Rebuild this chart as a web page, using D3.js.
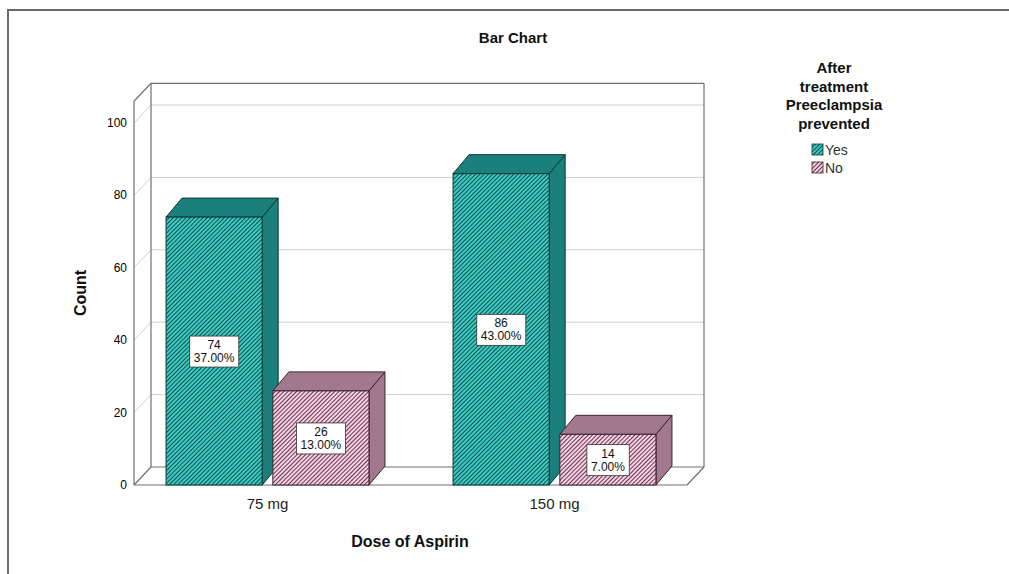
<!DOCTYPE html>
<html>
<head>
<meta charset="utf-8">
<script src="https://cdn.jsdelivr.net/npm/d3@7"></script>
<style>
  body { margin: 0; background: #fff; }
  svg { display: block; font-family: Arial, "Liberation Sans", sans-serif; }
</style>
</head>
<body>
<div class="chart"></div>
<script>
// data
const categories = ["75 mg", "150 mg"];
const groups = ["Yes", "No"];
const yesCounts = [74, 86];
const noCounts = [26, 14];
const yesPercents = [37.0, 43.0];
const noPercents = [13.0, 7.0];
const yTicks = [0, 20, 40, 60, 80, 100];
const legendTitle = ["After", "treatment", "Preeclampsia", "prevented"];

const w = 1009;
const h = 574;
const depthX = 17, depthY = -18;   // box depth
const barDX = 16, barDY = -19;     // bar depth
const plotLeft = 134, plotRight = 687;

const colors = {
  Yes: { light: "#3ccac2", stripe: "#125250", solid: "#1b7f7b", edge: "#0b3735" },
  No:  { light: "#f6d0e3", stripe: "#66384f", solid: "#a2788f", edge: "#3a2230" }
};

const svg = d3.select(".chart").append("svg")
  .attr("width", w)
  .attr("height", h);

// hatch patterns
const defs = svg.append("defs");
groups.forEach(g => {
  const p = defs.append("pattern")
    .attr("id", "hatch-" + g)
    .attr("patternUnits", "userSpaceOnUse")
    .attr("width", 3)
    .attr("height", 10)
    .attr("patternTransform", "rotate(45)");
  p.append("rect").attr("width", 3).attr("height", 10).attr("fill", colors[g].light);
  p.append("rect").attr("width", 1).attr("height", 10).attr("fill", colors[g].stripe);
});

// outer frame
svg.append("path")
  .attr("d", "M8,574 L8,10 L1009,10")
  .attr("fill", "none")
  .attr("stroke", "#6a6a6a")
  .attr("stroke-width", 2);

svg.append("text")
  .attr("x", 513).attr("y", 43)
  .attr("text-anchor", "middle")
  .attr("font-size", 15).attr("font-weight", "bold")
  .attr("fill", "#111")
  .text("Bar Chart");

const yScale = d3.scaleLinear().domain([0, 100]).range([485, 123]);
const yMax = 106;

const x0 = d3.scaleBand().domain(categories).range([124, 698])
  .paddingInner(0.293).paddingOuter(0.1465);
const x1 = d3.scaleBand().domain(groups).range([0, x0.bandwidth()]).paddingInner(0.1);

// 3d box: gridlines on back wall and left wall
const grid = svg.append("g");
yTicks.filter(t => t > 0).forEach(t => {
  const yy = yScale(t);
  grid.append("line")
    .attr("x1", plotLeft + depthX).attr("x2", plotRight + depthX)
    .attr("y1", yy + depthY).attr("y2", yy + depthY)
    .attr("stroke", "#cfcfcf");
  grid.append("line")
    .attr("x1", plotLeft).attr("x2", plotLeft + depthX)
    .attr("y1", yy).attr("y2", yy + depthY)
    .attr("stroke", "#cfcfcf");
});

const y0 = yScale(0), yT = yScale(yMax);
const frame = [
  // left wall
  [plotLeft, y0, plotLeft, yT],
  [plotLeft, yT, plotLeft + depthX, yT + depthY],
  [plotLeft + depthX, yT + depthY, plotLeft + depthX, y0 + depthY],
  // back wall
  [plotLeft + depthX, yT + depthY, plotRight + depthX, yT + depthY],
  [plotRight + depthX, yT + depthY, plotRight + depthX, y0 + depthY],
  // floor
  [plotLeft + depthX, y0 + depthY, plotRight + depthX, y0 + depthY],
  [plotLeft, y0, plotLeft + depthX, y0 + depthY],
  [plotLeft, y0, plotRight, y0],
  [plotRight, y0, plotRight + depthX, y0 + depthY]
];
svg.append("g").selectAll("line")
  .data(frame)
  .enter().append("line")
  .attr("x1", d => d[0]).attr("y1", d => d[1])
  .attr("x2", d => d[2]).attr("y2", d => d[3])
  .attr("stroke", "#707070")
  .attr("stroke-width", 1.2);

// y tick labels
svg.append("g").selectAll("text")
  .data(yTicks)
  .enter().append("text")
  .attr("x", 127)
  .attr("y", d => yScale(d) + 4)
  .attr("text-anchor", "end")
  .attr("font-size", 12)
  .attr("fill", "#000")
  .text(d => d);

// bars
const bars = [];
categories.forEach((c, i) => {
  bars.push({ cat: c, grp: "Yes", value: yesCounts[i], pct: yesPercents[i] });
  bars.push({ cat: c, grp: "No", value: noCounts[i], pct: noPercents[i] });
});

const barG = svg.append("g");
bars.forEach(d => {
  const xl = x0(d.cat) + x1(d.grp);
  const xr = xl + x1.bandwidth();
  const yt = yScale(d.value);
  const yb = yScale(0);
  const col = colors[d.grp];
  const g = barG.append("g");
  // side
  g.append("path")
    .attr("d", `M${xr},${yb} L${xr + barDX},${yb + barDY} L${xr + barDX},${yt + barDY} L${xr},${yt} Z`)
    .attr("fill", col.solid).attr("stroke", col.edge).attr("stroke-width", 1);
  // top
  g.append("path")
    .attr("d", `M${xl},${yt} L${xl + barDX},${yt + barDY} L${xr + barDX},${yt + barDY} L${xr},${yt} Z`)
    .attr("fill", col.solid).attr("stroke", col.edge).attr("stroke-width", 1);
  // front
  g.append("rect")
    .attr("x", xl).attr("y", yt)
    .attr("width", xr - xl).attr("height", yb - yt)
    .attr("fill", "url(#hatch-" + d.grp + ")")
    .attr("stroke", col.edge).attr("stroke-width", 1);

  // value label
  const cx = (xl + xr) / 2, cy = (yt + yb) / 2;
  const lab = g.append("g");
  const txt = lab.append("text")
    .attr("text-anchor", "middle")
    .attr("font-size", 12)
    .attr("fill", "#111");
  txt.append("tspan").attr("x", cx).attr("y", cy - 2).text(d.value);
  txt.append("tspan").attr("x", cx).attr("y", cy + 11).text(d.pct.toFixed(2) + "%");
  const bb = txt.node().getBBox();
  lab.insert("rect", "text")
    .attr("x", bb.x - 4).attr("y", bb.y - 2)
    .attr("width", bb.width + 8).attr("height", bb.height + 4)
    .attr("fill", "#fff").attr("stroke", "#333").attr("stroke-width", 0.8);
});

// category labels
svg.append("g").selectAll("text")
  .data(categories)
  .enter().append("text")
  .attr("x", d => x0(d) + x0.bandwidth() / 2)
  .attr("y", 509)
  .attr("text-anchor", "middle")
  .attr("font-size", 15)
  .attr("fill", "#222")
  .text(d => d);

// axis titles
svg.append("text")
  .attr("x", 410).attr("y", 547)
  .attr("text-anchor", "middle")
  .attr("font-size", 16).attr("font-weight", "bold")
  .attr("fill", "#111")
  .text("Dose of Aspirin");

svg.append("text")
  .attr("transform", "translate(86,293) rotate(-90)")
  .attr("text-anchor", "middle")
  .attr("font-size", 16).attr("font-weight", "bold")
  .attr("fill", "#111")
  .text("Count");

// legend
const legend = svg.append("g");
legend.selectAll("text.lt")
  .data(legendTitle)
  .enter().append("text")
  .attr("class", "lt")
  .attr("x", 834)
  .attr("y", (d, i) => 73 + i * 18.5)
  .attr("text-anchor", "middle")
  .attr("font-size", 15).attr("font-weight", "bold")
  .attr("fill", "#111")
  .text(d => d);

groups.forEach((g, i) => {
  const yy = 144 + i * 18;
  legend.append("rect")
    .attr("x", 812).attr("y", yy)
    .attr("width", 11).attr("height", 11)
    .attr("fill", "url(#hatch-" + g + ")")
    .attr("stroke", colors[g].edge).attr("stroke-width", 0.8);
  legend.append("text")
    .attr("x", 825).attr("y", yy + 10.5)
    .attr("font-size", 14)
    .attr("fill", "#333")
    .text(g);
});
</script>
</body>
</html>
